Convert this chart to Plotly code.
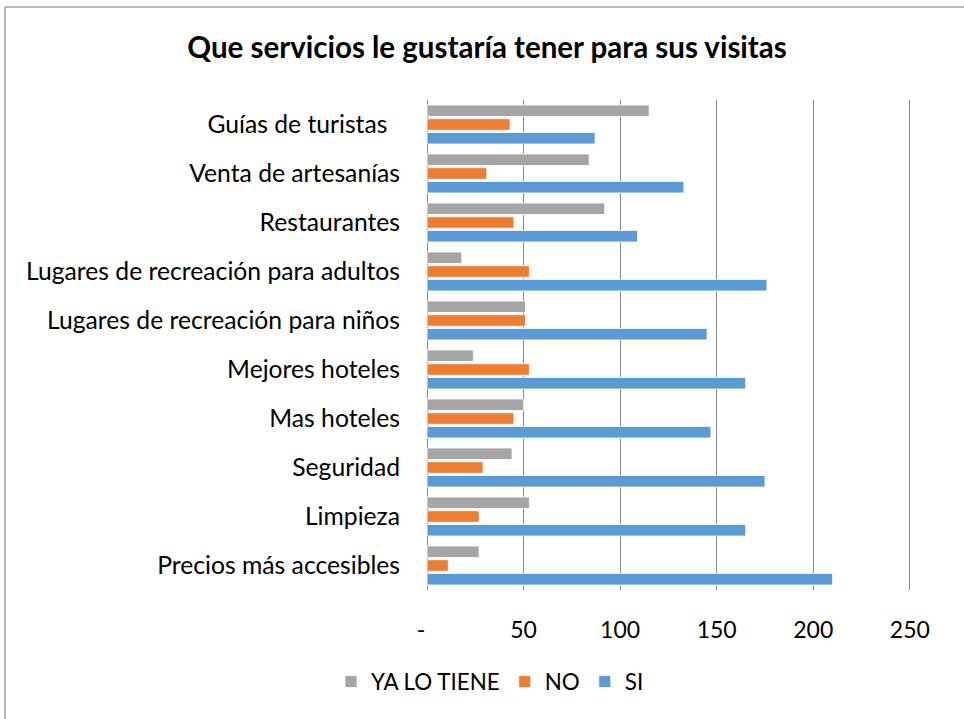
import plotly.graph_objects as go

categories = ["Precios más accesibles", "Limpieza", "Seguridad", "Mas hoteles",
              "Mejores hoteles", "Lugares de recreación para niños",
              "Lugares de recreación para adultos", "Restaurantes",
              "Venta de artesanías", "Guías de turistas  "]
si = [210, 165, 175, 147, 165, 145, 176, 109, 133, 87]
no = [11, 27, 29, 45, 53, 51, 53, 45, 31, 43]
ya_lo_tiene = [27, 53, 44, 50, 24, 51, 18, 92, 84, 115]
x_tickvals = [0, 50, 100, 150, 200, 250]
x_ticktext = ["-\u00a0\u00a0", "50", "100", "150", "200", "250"]

FONT = "Lato"
W, H = 964, 719
L, R, T, B = 427, 911, 100, 590

fig = go.Figure()
fig.add_trace(go.Bar(y=categories, x=si, name="SI", orientation="h",
                     marker=dict(color="#5B9BD5", line=dict(color="white", width=0.8))))
fig.add_trace(go.Bar(y=categories, x=no, name="NO", orientation="h",
                     marker=dict(color="#ED7D31", line=dict(color="white", width=0.8))))
fig.add_trace(go.Bar(y=categories, x=ya_lo_tiene, name="YA LO TIENE", orientation="h",
                     marker=dict(color="#A5A5A5", line=dict(color="white", width=0.8))))

pw = R - L
ph = B - T
def px_x(p):
    return (p - L) / pw
def px_y(p):
    return (B - p) / ph

fig.update_layout(
    width=W, height=H,
    margin=dict(l=L, r=W - R, t=T, b=H - B, pad=0),
    paper_bgcolor="white", plot_bgcolor="white",
    barmode="group", bargap=0.16, bargroupgap=0.16,
    font=dict(family=FONT, color="black", size=23),
    title=dict(text="<b>Que servicios le gustaría tener para sus visitas</b>",
               x=487 / W, xanchor="center", y=1 - 48 / H, yanchor="middle",
               font=dict(family=FONT, size=29.5, color="black")),
    xaxis=dict(range=[0, 250.6], tickvals=x_tickvals, ticktext=x_ticktext,
               showgrid=True, gridcolor="#888888", gridwidth=1.2,
               zeroline=True, zerolinecolor="#888888", zerolinewidth=1.2,
               ticks="outside", ticklen=19, tickcolor="rgba(0,0,0,0)",
               tickfont=dict(size=23), fixedrange=True),
    yaxis=dict(categoryorder="array", categoryarray=categories,
               showgrid=False, zeroline=False, fixedrange=True,
               ticks="outside", ticklen=21, tickcolor="rgba(0,0,0,0)",
               tickfont=dict(size=24.7)),
    legend=dict(orientation="h", traceorder="reversed",
                x=px_x(490), xanchor="center", y=px_y(682), yanchor="middle",
                font=dict(size=22.4), itemwidth=30),
    shapes=[
        dict(type="line", xref="paper", yref="paper",
             x0=px_x(5), x1=px_x(970), y0=px_y(7), y1=px_y(7),
             line=dict(color="#A0A0A0", width=1.5)),
        dict(type="line", xref="paper", yref="paper",
             x0=px_x(5), x1=px_x(5), y0=px_y(7), y1=px_y(725),
             line=dict(color="#A0A0A0", width=1.5)),
    ],
)

fig.write_html("out.html", config={"displayModeBar": False},
               post_script="document.body.style.margin='0';")
